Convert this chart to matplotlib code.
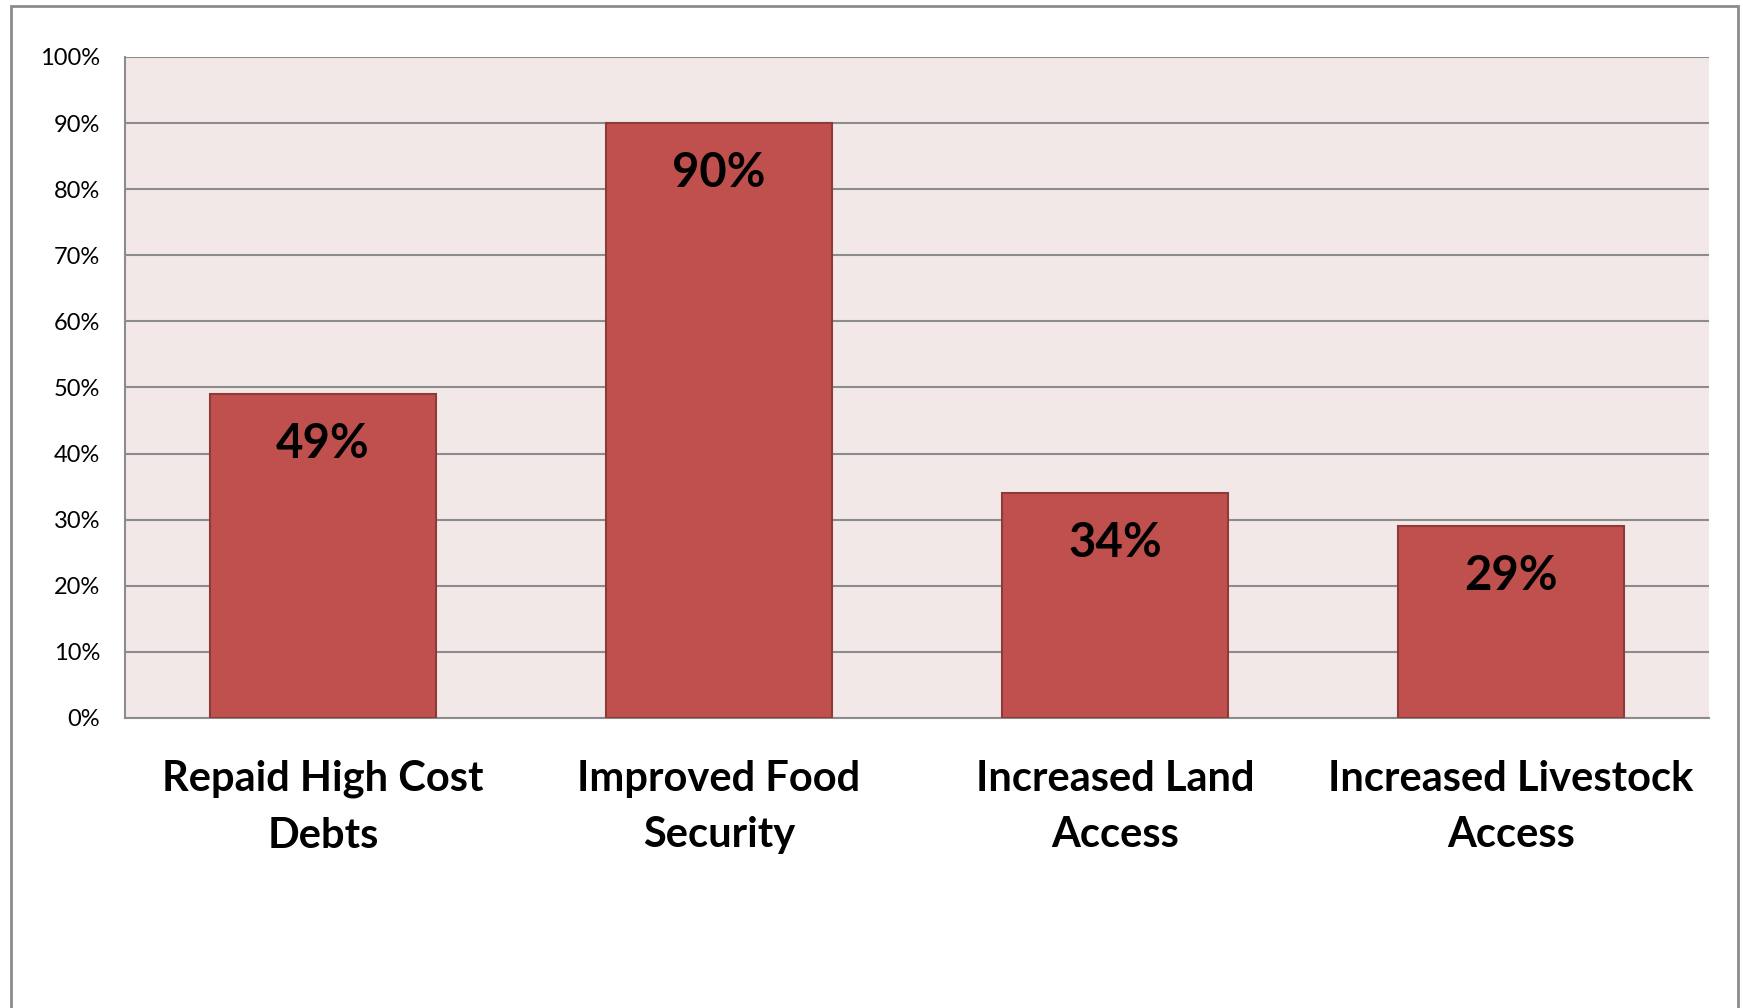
import matplotlib
matplotlib.use('Agg')
import matplotlib.pyplot as plt
import matplotlib.patches as patches
from matplotlib.ticker import FuncFormatter

plt.rcParams['font.family'] = ['Lato', 'DejaVu Sans']

categories = ["Repaid High Cost\nDebts", "Improved Food\nSecurity",
              "Increased Land\nAccess", "Increased Livestock\nAccess"]
values = [49, 90, 34, 29]
yticks = [0, 10, 20, 30, 40, 50, 60, 70, 80, 90, 100]

bar_color = '#C0504D'
edge_color = '#8E3A38'
plot_bg = '#F2E8E7'
grid_color = '#8C8C8C'

fig = plt.figure(figsize=(17.43, 10.08), dpi=100)
ax = fig.add_axes([0.0717, 0.2877, 0.9088, 0.6558])
ax.set_facecolor(plot_bg)

x = list(range(len(categories)))
ax.bar(x, values, width=0.573, color=bar_color, edgecolor=edge_color,
       linewidth=1.5, zorder=3)

for xi, v in zip(x, values):
    ax.annotate(f"{v}%", xy=(xi, v), xytext=(0, -36), textcoords='offset points',
                ha='center', va='center', fontsize=34, fontweight='bold',
                color='black', zorder=4)

ax.set_xlim(-0.5, len(categories) - 0.5)
ax.set_ylim(0, 100)
ax.set_yticks(yticks)
ax.yaxis.set_major_formatter(FuncFormatter(lambda v, p: f"{int(v)}%"))
ax.yaxis.grid(True, color=grid_color, linewidth=1.5, zorder=1)
ax.set_axisbelow(True)

ax.set_xticks(x)
ax.set_xticklabels(categories, fontsize=30, fontweight='bold', linespacing=1.6)
ax.tick_params(axis='x', length=0, pad=30)
ax.tick_params(axis='y', length=0, pad=18, labelsize=17)

for side in ['top', 'right']:
    ax.spines[side].set_visible(False)
for side in ['left', 'bottom']:
    ax.spines[side].set_color(grid_color)
    ax.spines[side].set_linewidth(1.5)

# outer chart border
border = patches.Rectangle((0.0063, -0.05), 0.9908, 1.044, transform=fig.transFigure,
                           fill=False, edgecolor='#8C8C8C', linewidth=2, clip_on=False)
fig.patches.append(border)

fig.savefig('out.png', dpi=100, facecolor='white')
